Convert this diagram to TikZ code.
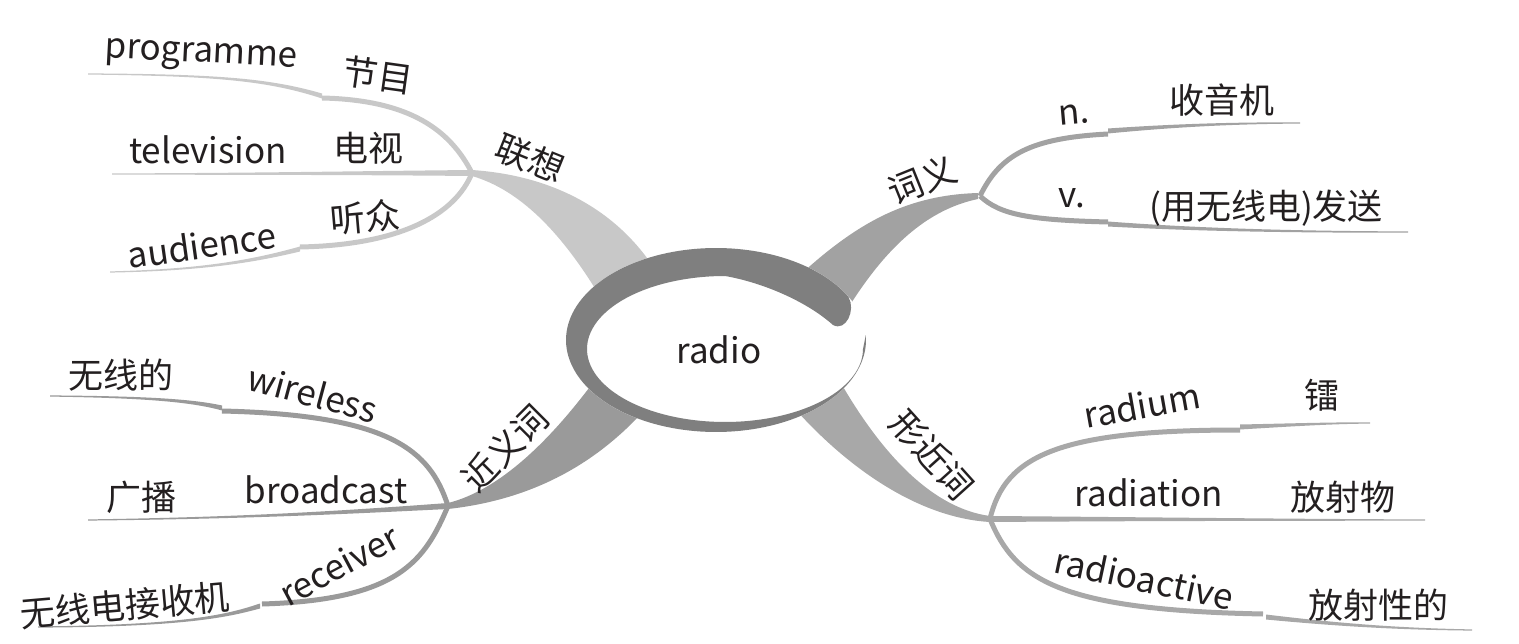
\documentclass[tikz,border=0pt]{standalone}
\usepackage{fontspec}
\setmainfont{Noto Sans CJK SC}
\usetikzlibrary{calc}
\definecolor{ringc}{HTML}{7F7F7F}
\definecolor{ca}{HTML}{C8C8C8}
\definecolor{cb}{HTML}{A2A2A2}
\definecolor{cc}{HTML}{9A9A9A}
\definecolor{cd}{HTML}{A8A8A8}
\definecolor{txt}{HTML}{231F20}
\newcommand\tailfill[6]{\fill[#1] ($#2+(0,-#6)$) .. controls ($#3+(0,-0.6*#6)$) and ($#4+(0,-0.9)$) .. ($#5+(0,-0.6)$) -- ($#5+(0,0.6)$) .. controls ($#4+(0,0.9)$) and ($#3+(0,0.6*#6)$) .. ($#2+(0,#6)$) -- cycle;}
\begin{document}
\begin{tikzpicture}[x=1pt,y=-1pt,
  lbl/.style={font=\fontsize{35}{35}\selectfont, text=txt, inner sep=0pt},
  twig/.style={line width=5pt}]
\useasboundingbox (0,0) rectangle (1519,644);
% junctions
\coordinate (J1) at (472,173);
\coordinate (J2) at (980,196);
\coordinate (J3) at (448,506);
\coordinate (J4) at (990,519);
% ---- main branches
\fill[ca] (472,170) .. controls (560,176) and (618,215) .. (652,265) -- (596,290) .. controls (560,232) and (520,190) .. (472,176) -- cycle;
\fill[cb] (978,193) .. controls (910,195) and (860,220) .. (800,275) -- (850,305) .. controls (885,250) and (925,210) .. (978,199) -- cycle;
\fill[cc] (448,503) .. controls (500,490) and (550,440) .. (592,384) -- (640,415) .. controls (592,466) and (530,500) .. (448,509) -- cycle;
\fill[cd] (842,385) .. controls (880,450) and (930,508) .. (990,516) -- (990,522) .. controls (920,518) and (850,470) .. (796,410) -- cycle;
% ---- 联想 sub branches
\draw[ca,twig] (J1) .. controls (450,130) and (410,100) .. (322,98);
\tailfill{ca}{(322,96)}{(270,80)}{(220,75)}{(88,74)}{2.5}
\tailfill{ca}{(472,173)}{(350,173)}{(250,174)}{(112,174)}{3}
\draw[ca,twig] (J1) .. controls (455,215) and (400,245) .. (300,247);
\tailfill{ca}{(300,249)}{(250,262)}{(200,270)}{(110,272)}{2.5}
% ---- 词义 sub branches
\draw[cb,twig] (J2) .. controls (1000,155) and (1030,138) .. (1108,134);
\tailfill{cb}{(1108,131)}{(1180,125)}{(1240,123)}{(1300,123)}{2.5}
\draw[cb,twig] (J2) .. controls (1000,215) and (1030,220) .. (1108,222);
\tailfill{cb}{(1108,224)}{(1200,230)}{(1300,232)}{(1408,232)}{2.5}
% ---- 近义词 sub branches
\draw[cc,twig] (J3) .. controls (430,450) and (390,415) .. (222,411);
\tailfill{cc}{(222,408)}{(190,400)}{(140,397)}{(50,396)}{2.5}
\tailfill{cc}{(448,506)}{(350,512)}{(250,518)}{(88,520)}{3}
\draw[cc,twig] (J3) .. controls (425,560) and (400,600) .. (262,604);
\tailfill{cc}{(260,606)}{(230,615)}{(190,626)}{(38,627)}{2.5}
% ---- 形近词 sub branches
\draw[cd,twig] (J4) .. controls (1005,455) and (1060,430) .. (1240,430);
\tailfill{cd}{(1240,427)}{(1290,425)}{(1330,423)}{(1370,423)}{2.5}
\tailfill{cd}{(990,519)}{(1150,519)}{(1300,520)}{(1425,520)}{3}
\draw[cd,twig] (J4) .. controls (1015,580) and (1060,610) .. (1263,614);
\tailfill{cd}{(1266,617)}{(1340,625)}{(1400,629)}{(1472,630)}{2.5}
% ---- central ring
\fill[white] (716,340) ellipse [x radius=150pt, y radius=92pt];
\fill[ringc] plot[domain=28:363, samples=150] ({716+150*cos(\x)},{340-92*sin(\x)})
  -- plot[domain=0:270, samples=120] ({725+138*cos(360-\x)},{349-73*sin(360-\x)})
  .. controls (760,282) and (805,300) .. (833,325)
  .. controls (846,332) and (856,310) .. (848.5,297) -- cycle;
\node[lbl] (radio) at (719,350) {radio};
% ---- labels
\node[lbl,rotate=-3] (programme) at (201,57) {programme};
\node[lbl,rotate=-8] (jiemu) at (378,75) {节目};
\node[lbl] (television) at (208,150) {television};
\node[lbl] (dianshi) at (368,148) {电视};
\node[lbl,rotate=-22] (lianxiang) at (530,158) {联想};
\node[lbl,rotate=5] (tingzhong) at (365,217) {听众};
\node[lbl,rotate=8] (audience) at (202,245) {audience};
\node[lbl,rotate=22] (ciyi) at (922,180) {词义};
\node[lbl,rotate=5] (n) at (1074,115) {n.};
\node[lbl] (shouyinji) at (1222,100) {收音机};
\node[lbl] (v) at (1072,198) {v.};
\node[lbl] (fasong) at (1266,208) {(用无线电)发送};
\node[lbl,rotate=45] (jinyici) at (505,448) {近义词};
\node[lbl] (wuxiande) at (121,375) {无线的};
\node[lbl,rotate=-15] (wireless) at (313,393) {wireless};
\node[lbl] (guangbo) at (141,497) {广播};
\node[lbl] (broadcast) at (326,490) {broadcast};
\node[lbl,rotate=28] (receiver) at (339,565) {receiver};
\node[lbl,rotate=5] (jieshouji) at (125,605) {无线电接收机};
\node[lbl,rotate=-48] (xingjinci) at (932,455) {形近词};
\node[lbl,rotate=10] (radium) at (1142,405) {radium};
\node[lbl] (lei) at (1322,395) {镭};
\node[lbl] (radiation) at (1149,493) {radiation};
\node[lbl] (fangshewu) at (1343,497) {放射物};
\node[lbl,rotate=-12] (radioactive) at (1144,578) {radioactive};
\node[lbl] (fangshexing) at (1378,605) {放射性的};
\end{tikzpicture}
\end{document}
